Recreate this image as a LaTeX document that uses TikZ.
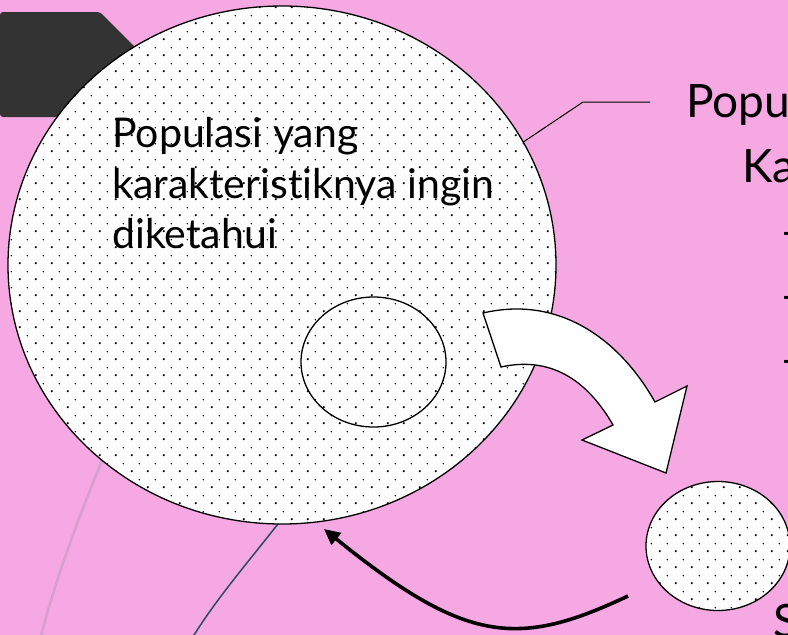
\documentclass[tikz,border=0pt]{standalone}
\usepackage{fontspec}
\setmainfont{Lato}[Ligatures=NoCommon]
\usetikzlibrary{patterns.meta,arrows.meta,shapes.geometric}
\definecolor{bgpink}{RGB}{245,168,226}
\definecolor{darkbar}{RGB}{51,51,51}
\definecolor{paleline}{RGB}{214,160,206}
\definecolor{slateline}{RGB}{45,75,92}
\tikzdeclarepattern{
  name=pdots,
  type=uncolored,
  bottom left={(0pt,0pt)},
  top right={(16pt,16pt)},
  tile size={(16pt,16pt)},
  code={
    \pgfpathcircle{\pgfqpoint{4pt}{4pt}}{1.3pt}\pgfusepath{fill}
    \pgfpathcircle{\pgfqpoint{12pt}{12pt}}{0.85pt}\pgfusepath{fill}
  }
}
\tikzset{
  dotted blob/.style={ellipse, draw=black, line width=1.3pt, fill=white,
    postaction={pattern=pdots, pattern color=black}, inner sep=0pt, outer sep=0pt},
  ring/.style={ellipse, draw=black, line width=1.3pt, inner sep=0pt, outer sep=0pt},
  lefttext/.style={anchor=base west, inner sep=0pt, font=\fontsize{41}{48}\selectfont},
  righttext/.style={anchor=base west, inner sep=0pt, font=\fontsize{46}{54}\selectfont},
}
\begin{document}
\begin{tikzpicture}[x=1pt,y=-1pt]
\useasboundingbox (0,0) rectangle (788,635);
\clip (0,0) rectangle (788,635);
\fill[bgpink] (0,0) rectangle (788,635);
% dark header bar
\fill[darkbar, rounded corners=3pt] (0,12) -- (100,12) -- (205,117) -- (0,117) -- cycle;
% background curves
\coordinate (pl1) at (150,350);
\coordinate (pl2) at (40,640);
\draw[paleline, line width=2.5pt] (pl1) .. controls (100,460) and (60,560) .. (pl2);
\coordinate (sl1) at (285,515);
\coordinate (sl2) at (191,640);
\draw[slateline, line width=1.5pt] (sl1) .. controls (250,560) and (215,600) .. (sl2);
% big population circle
\node[dotted blob, minimum width=548pt, minimum height=518pt] (pop) at (282,265) {};
\node[ring, minimum width=145pt, minimum height=130pt] (sub) at (373.5,362) {};
% label inside
\node[lefttext] (l1) at (112,147) {Populasi yang};
\node[lefttext] (l2) at (112,198) {karakteristiknya ingin};
\node[lefttext] (l3) at (112,248) {diketahui};
% callout line
\coordinate (k1) at (583,102);
\coordinate (k2) at (650,102);
\draw[black, line width=1pt] (pop.27) -- (k1) -- (k2);
% white curved arrow
\draw[fill=white, line width=1.3pt, line join=miter]
  (483,313) .. controls (560,295) and (620,340) .. (655,402)
  -- (687,386) -- (666,473) -- (582,440) -- (613,425)
  .. controls (590,385) and (555,355) .. (501,367) -- cycle;
% sample circle
\node[dotted blob, minimum width=144pt, minimum height=129pt] (samp) at (718,546) {};
% return arrow
\coordinate (as) at (628,596);
\coordinate (ae) at (324,529);
\draw[line width=3.6pt, -{Triangle[length=16pt, width=15pt]}] (as) .. controls (518,648) and (466,644) .. (ae);
% right side text fragments
\node[righttext] (t1) at (686,117) {Popu};
\node[righttext] (t2) at (742,182) {Ka};
\node[righttext] (d1) at (780,247) {–};
\node[righttext] (d2) at (780,311) {–};
\node[righttext] (d3) at (780,375) {–};
\node[righttext, anchor=north west] (s1) at (773,604) {S};
\end{tikzpicture}
\end{document}
